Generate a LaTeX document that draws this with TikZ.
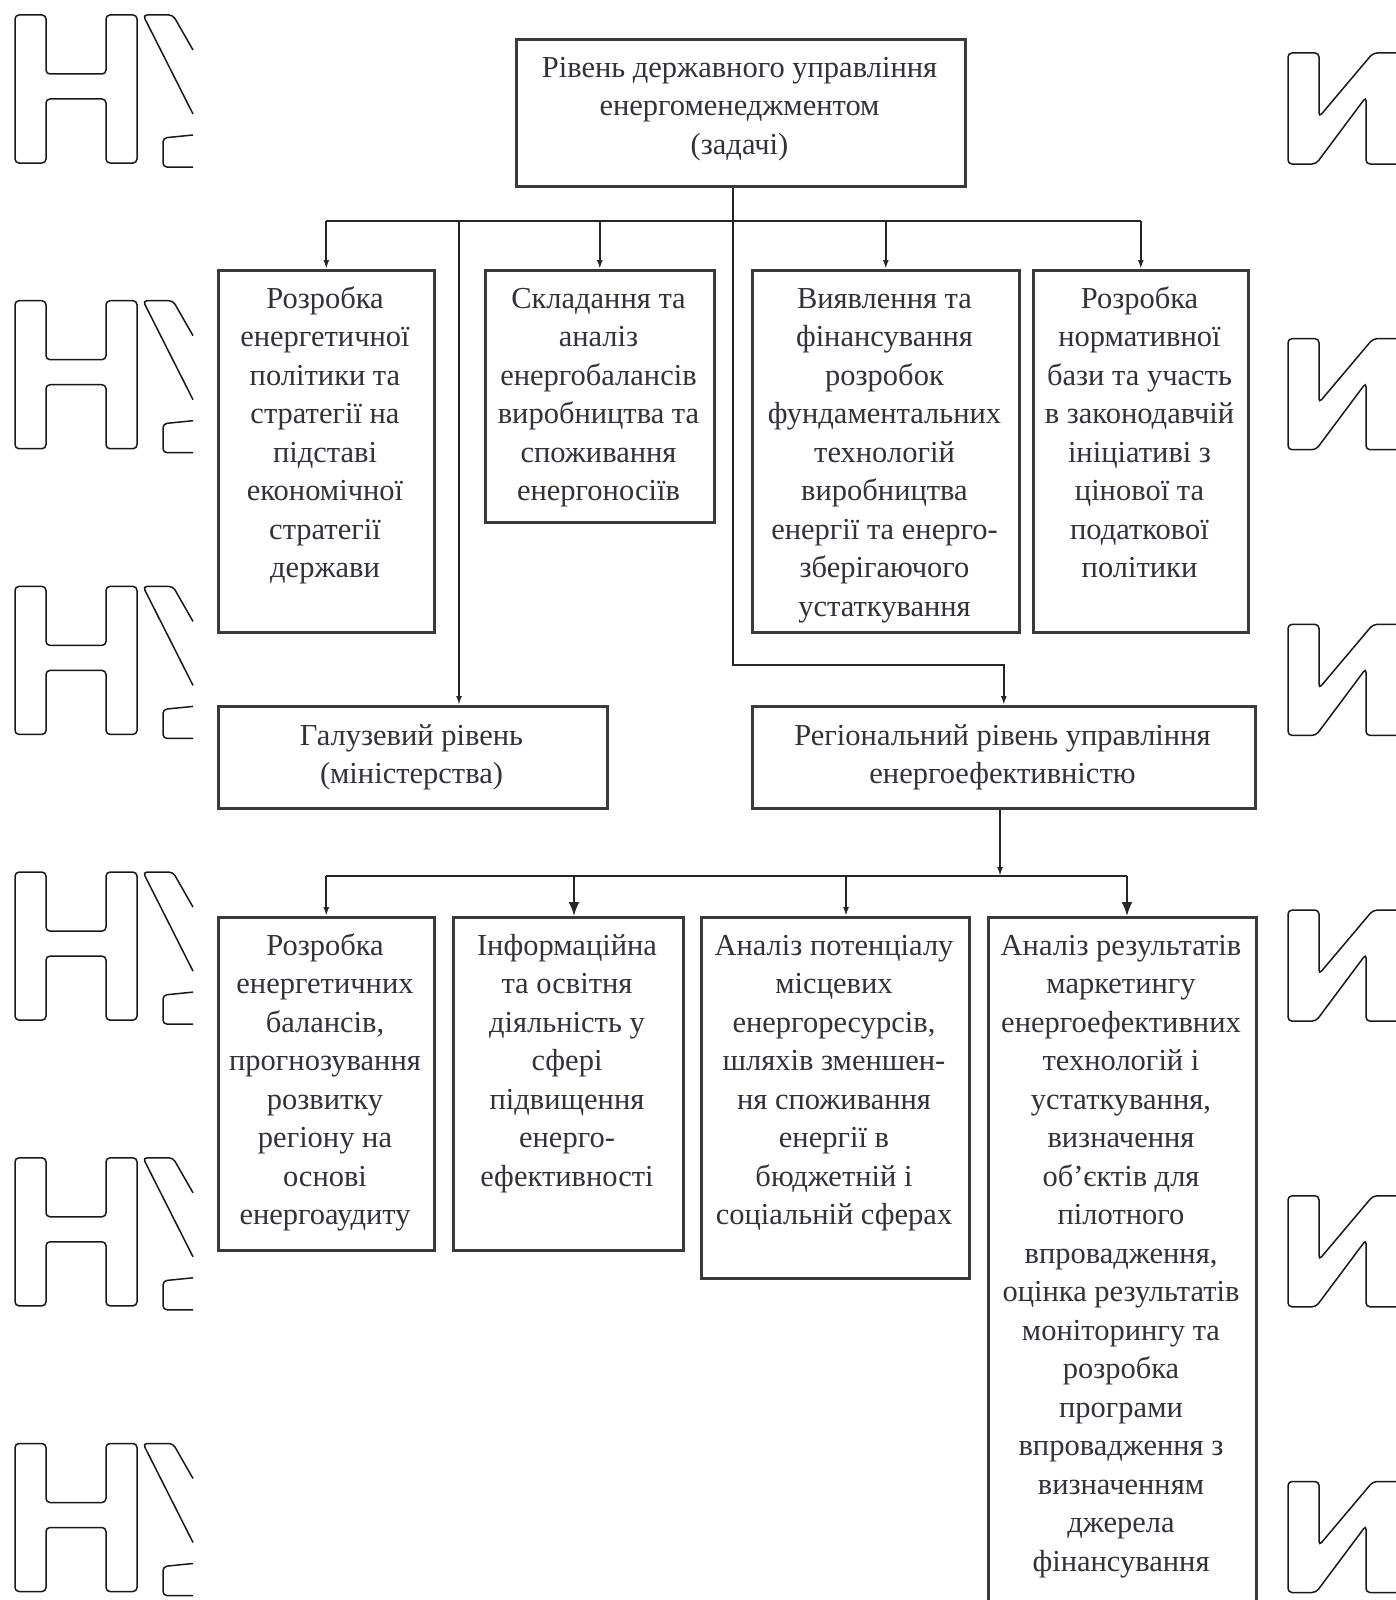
\documentclass[tikz,border=0pt]{standalone}
\usepackage{fontspec}
\setmainfont{Liberation Serif}
\usetikzlibrary{arrows.meta}
\definecolor{ink}{RGB}{52,48,60}
\definecolor{frame}{RGB}{58,58,62}
\definecolor{wm}{RGB}{25,25,25}
\begin{document}
\begin{tikzpicture}[x=1pt,y=-1pt,
  box/.style={draw=frame, line width=2.6pt, inner sep=0pt, anchor=north west},
  txt/.style={text=ink, align=center, inner sep=0pt, font=\fontsize{30.5}{38.5}\selectfont, anchor=base},
  conn/.style={draw=black!85, line width=2pt},
  sa/.style={-{Latex[length=9pt,width=6pt]}},
  ba/.style={-{Latex[length=14pt,width=11pt]}},
  wmline/.style={draw=wm, line width=1.5pt, rounded corners=4pt}]
\useasboundingbox (0,0) rectangle (1396,1600);
\clip (0,0) rectangle (1396,1600);
\fill[white] (0,0) rectangle (1396,1600);

% watermark letters
\foreach \k in {0,...,5}{
  \begin{scope}[shift={(0,285.7*\k)}]
    \draw[wmline] (15,15) -- (46,15) -- (46,74) -- (106,74) -- (106,15) -- (137,15) -- (137,163) -- (106,163) -- (106,99) -- (46,99) -- (46,163) -- (15,163) -- cycle;
    \draw[wmline] (193,50) -- (173,15) -- (143,15) -- (193,114);
    \draw[wmline] (193,135) -- (163,138) -- (163,167) -- (193,167);
    \draw[wmline] (1398,53) -- (1373,53) -- (1319,117) -- (1319,53) -- (1288,53) -- (1288,164) -- (1316,164) -- (1366,97) -- (1366,164) -- (1398,164);
  \end{scope}
}

% boxes
\node[box, minimum width=449, minimum height=147] (top) at (515,38) {};
\node[box, minimum width=216, minimum height=362] (b1) at (217,269) {};
\node[box, minimum width=229, minimum height=252] (b2) at (484,269) {};
\node[box, minimum width=267, minimum height=362] (b3) at (751,269) {};
\node[box, minimum width=215, minimum height=362] (b4) at (1032,269) {};
\node[box, minimum width=389, minimum height=102] (gal) at (217,705) {};
\node[box, minimum width=503, minimum height=102] (reg) at (751,705) {};
\node[box, minimum width=216, minimum height=333] (c1) at (217,916) {};
\node[box, minimum width=230, minimum height=333] (c2) at (452,916) {};
\node[box, minimum width=268, minimum height=361] (c3) at (700,916) {};
\node[box, minimum width=268, minimum height=700] (c4) at (987,916) {};

% texts (anchor = baseline of the last line)
\node[txt] (topt) at (739.5,154) {Рівень державного управління\\енергоменеджментом\\(задачі)};
\node[txt] (b1t) at (325,577.5) {Розробка\\енергетичної\\політики та\\стратегії на\\підставі\\економічної\\стратегії\\держави};
\node[txt] (b2t) at (598.5,500.5) {Складання та\\аналіз\\енергобалансів\\виробництва та\\споживання\\енергоносіїв};
\node[txt] (b3t) at (884.5,616) {Виявлення та\\фінансування\\розробок\\фундаментальних\\технологій\\виробництва\\енергії та енерго-\\зберігаючого\\устаткування};
\node[txt] (b4t) at (1139.5,577.5) {Розробка\\нормативної\\бази та участь\\в законодавчій\\ініціативі з\\цінової та\\податкової\\політики};
\node[txt] (galt) at (411.5,783.5) {Галузевий рівень\\(міністерства)};
\node[txt] (regt) at (1002.5,783.5) {Регіональний рівень управління\\енергоефективністю};
\node[txt] (c1t) at (325,1224.5) {Розробка\\енергетичних\\балансів,\\прогнозування\\розвитку\\регіону на\\основі\\енергоаудиту};
\node[txt] (c2t) at (567,1186) {Інформаційна\\та освітня\\діяльність у\\сфері\\підвищення\\енерго-\\ефективності};
\node[txt] (c3t) at (834,1224.5) {Аналіз потенціалу\\місцевих\\енергоресурсів,\\шляхів зменшен-\\ня споживання\\енергії в\\бюджетній і\\соціальній сферах};
\node[txt] (c4t) at (1121,1571) {Аналіз результатів\\маркетингу\\енергоефективних\\технологій і\\устаткування,\\визначення\\об’єктів для\\пілотного\\впровадження,\\оцінка результатів\\моніторингу та\\розробка\\програми\\впровадження з\\визначенням\\джерела\\фінансування};

% upper connectors
\coordinate (j0) at (733,221);
\coordinate (jg) at (459,221);
\coordinate (jr) at (733,665);
\draw[conn] (top.south -| j0) -- (j0);
\draw[conn] (b1.north |- j0) -- (b4.north |- j0);
\draw[conn,sa] (b1.north |- j0) -- (b1.north);
\draw[conn,sa] (b2.north |- j0) -- (b2.north);
\draw[conn,sa] (b3.north |- j0) -- (b3.north);
\draw[conn,sa] (b4.north |- j0) -- (b4.north);
\draw[conn,sa] (jg) -- (jg |- gal.north);
\draw[conn,sa] (j0) -- (jr) -| (reg.north);

% lower connectors
\coordinate (j1) at (1000,876);
\coordinate (a2) at (574,876);
\coordinate (a3) at (846,876);
\coordinate (a4) at (1127,876);
\draw[conn,sa] (reg.south -| j1) -- (j1);
\draw[conn] (c1.north |- j1) -- (a4);
\draw[conn,sa] (c1.north |- j1) -- (c1.north);
\draw[conn,ba] (a2) -- (a2 |- c2.north);
\draw[conn,sa] (a3) -- (a3 |- c3.north);
\draw[conn,ba] (a4) -- (a4 |- c4.north);
\end{tikzpicture}
\end{document}
